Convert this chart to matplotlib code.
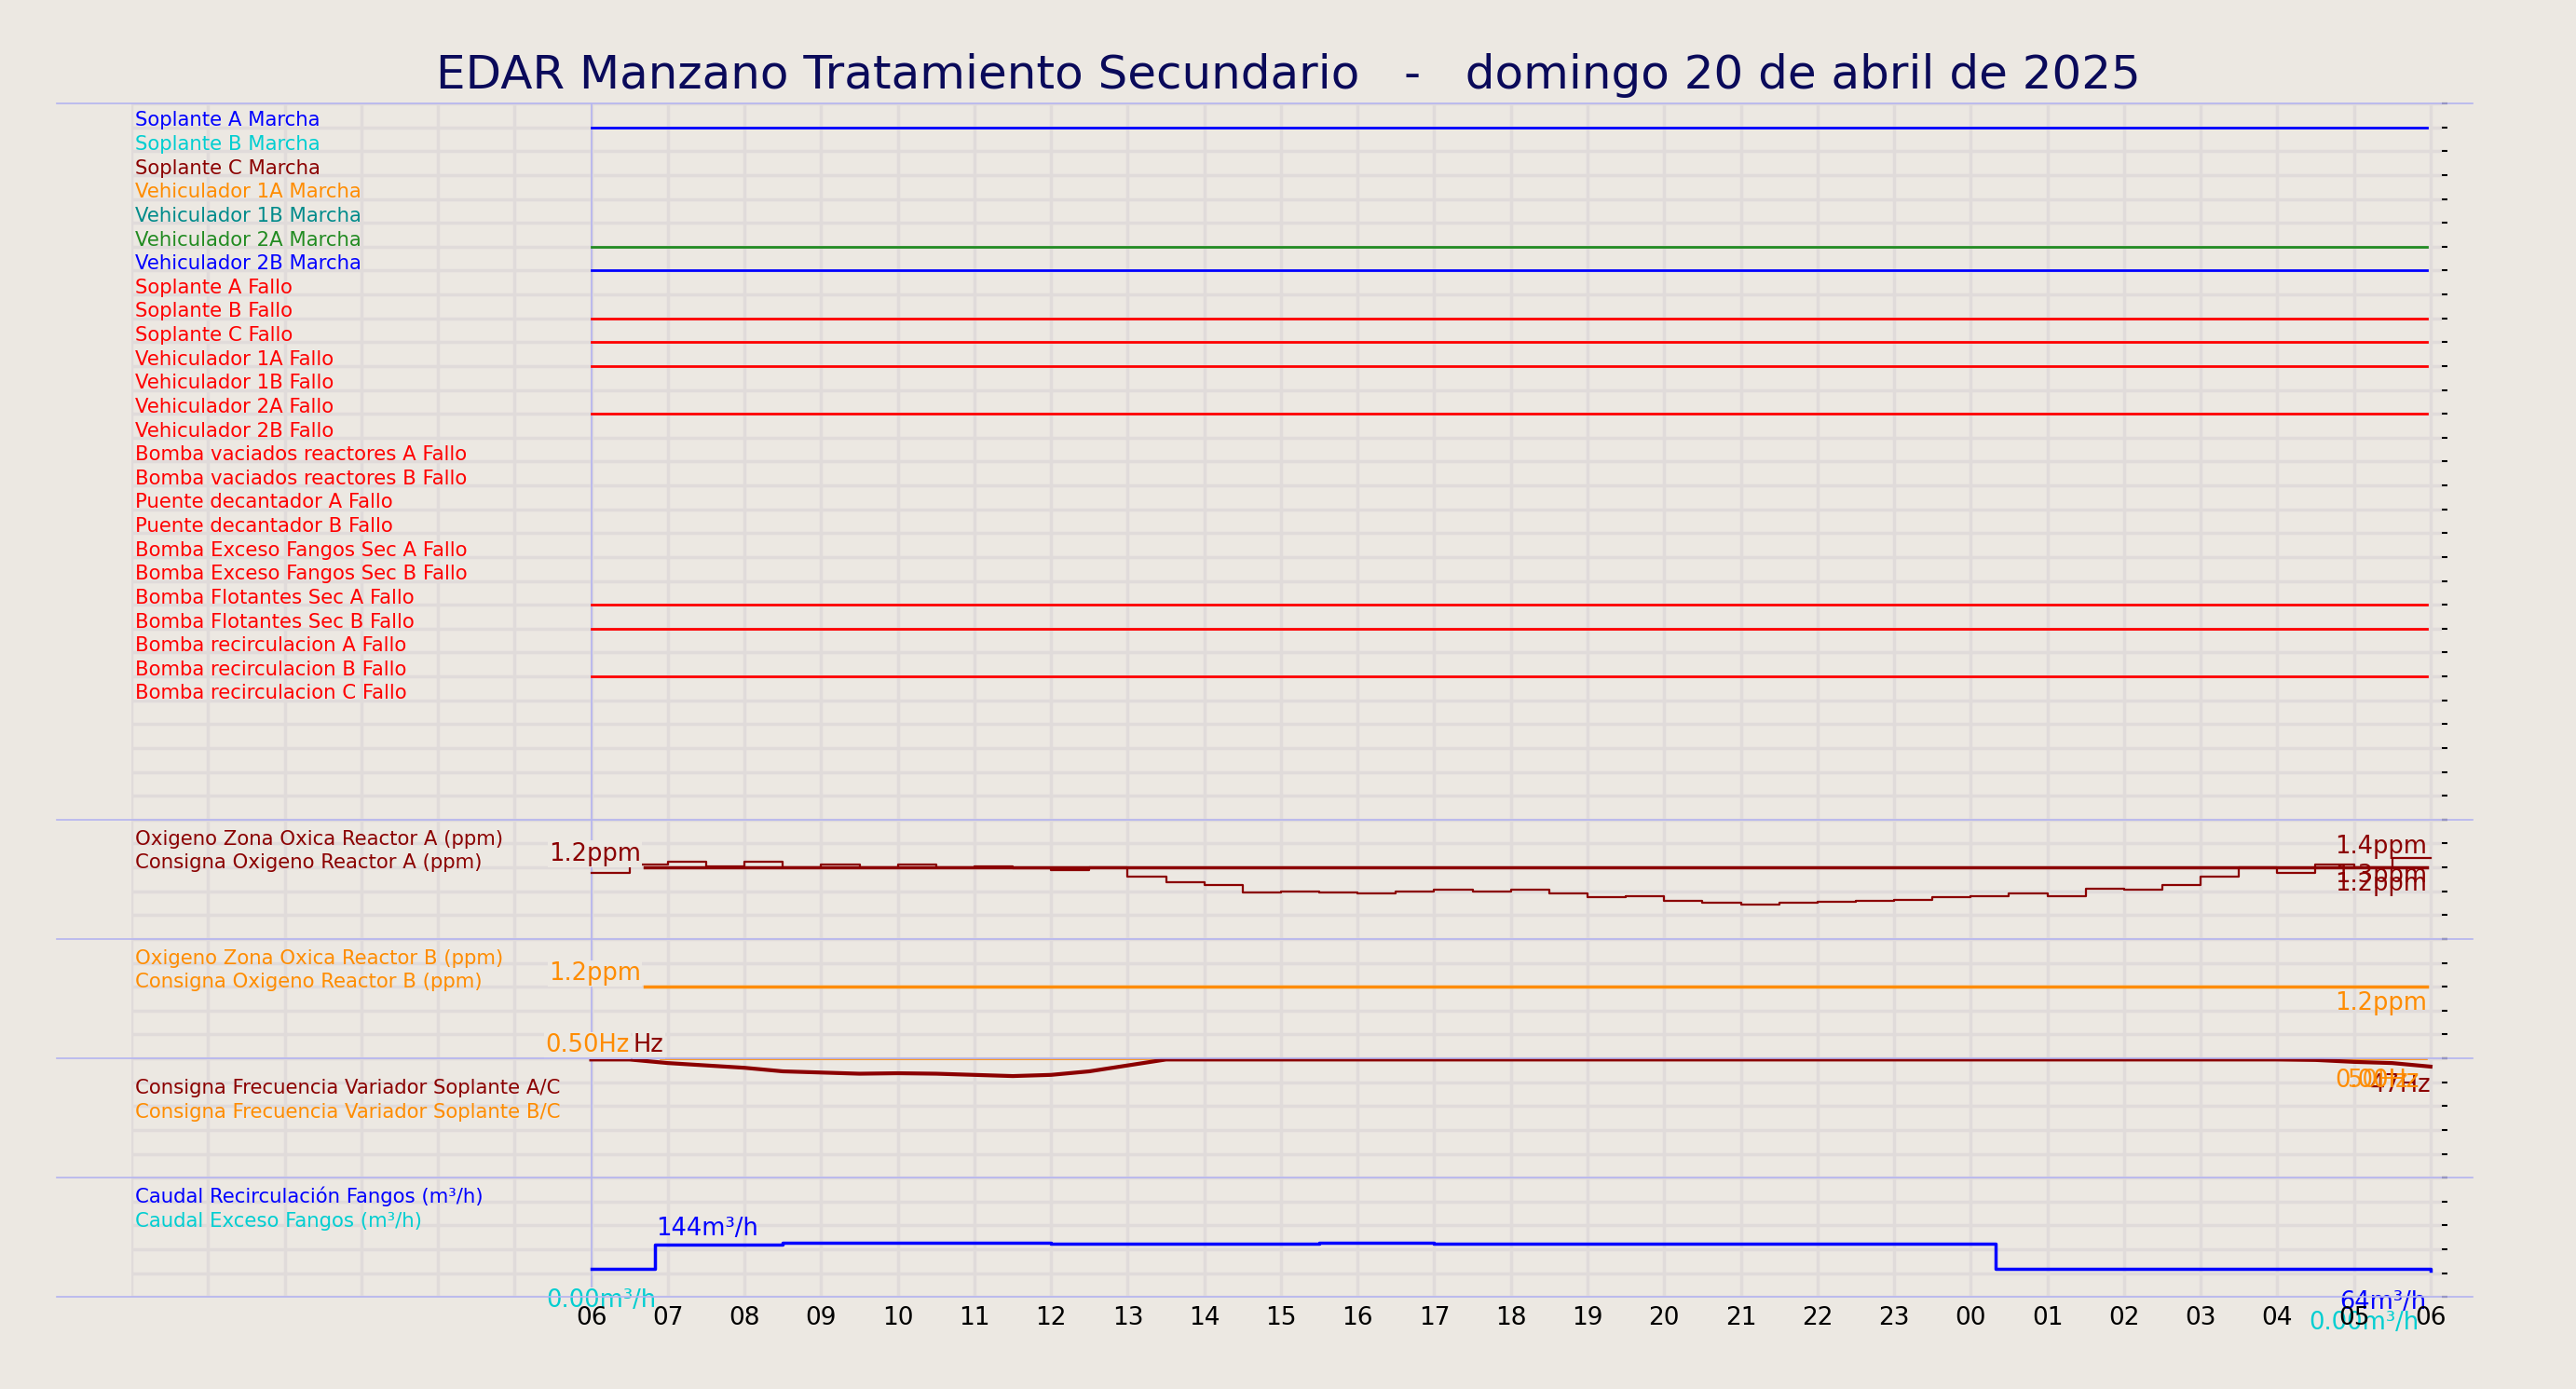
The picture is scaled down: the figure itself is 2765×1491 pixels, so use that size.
import matplotlib
matplotlib.use("Agg")
import matplotlib.pyplot as plt
import numpy as np
from matplotlib.lines import Line2D
from matplotlib.transforms import blended_transform_factory

BG = '#ECE8E2'
GRID = '#E0DBDA'
EDGE = '#B4B4F0'

# ---------------- data ----------------
title = "EDAR Manzano Tratamiento Secundario   -   domingo 20 de abril de 2025"
signal_names = ["Soplante A Marcha", "Soplante B Marcha", "Soplante C Marcha",
                "Vehiculador 1A Marcha", "Vehiculador 1B Marcha", "Vehiculador 2A Marcha",
                "Vehiculador 2B Marcha", "Soplante A Fallo", "Soplante B Fallo",
                "Soplante C Fallo", "Vehiculador 1A Fallo", "Vehiculador 1B Fallo",
                "Vehiculador 2A Fallo", "Vehiculador 2B Fallo",
                "Bomba vaciados reactores A Fallo", "Bomba vaciados reactores B Fallo",
                "Puente decantador A Fallo", "Puente decantador B Fallo",
                "Bomba Exceso Fangos Sec A Fallo", "Bomba Exceso Fangos Sec B Fallo",
                "Bomba Flotantes Sec A Fallo", "Bomba Flotantes Sec B Fallo",
                "Bomba recirculacion A Fallo", "Bomba recirculacion B Fallo",
                "Bomba recirculacion C Fallo"]
signal_colors = ['#0000FF', '#00CED1', '#8B0000', '#FF8C00', '#008B8B', '#228B22', '#0000FF'] + ['#FF0000'] * 18
signal_active = [1, 0, 0, 0, 0, 1, 1, 0, 1, 1, 1, 0, 1, 0, 0, 0, 0, 0, 0, 0, 1, 1, 0, 1, 0]

# hours from 00:00 of day 1 (6 = 06:00, 30 = 06:00 next day)
t_half = np.arange(6, 30.01, 0.5)
o2a = [1.10, 1.25, 1.30, 1.22, 1.30, 1.20, 1.25, 1.20, 1.25, 1.20, 1.22, 1.18, 1.15, 1.20,
       1.05, 0.95, 0.90, 0.78, 0.80, 0.78, 0.76, 0.80, 0.82, 0.80, 0.82, 0.77, 0.70, 0.72,
       0.64, 0.60, 0.58, 0.60, 0.62, 0.64, 0.66, 0.70, 0.72, 0.76, 0.72, 0.84, 0.82, 0.90,
       1.05, 1.20, 1.10, 1.25, 1.20, 1.35, 1.35]
o2a_sp = 1.2
o2b_sp = 1.2
freq_ac = [50, 50, 48.5, 47.5, 46.5, 45, 44.5, 44, 44.2, 44, 43.5, 43, 43.5, 45, 47.5,
           50, 50, 50, 50, 50, 50, 50, 50, 50, 50, 50, 50, 50, 50, 50, 50, 50, 50, 50, 50,
           50, 50, 50, 50, 50, 50, 50, 50, 50, 50, 49.8, 49, 48.5, 47]
freq_bc = 50.0
flow_t = [6, 6.83, 8.5, 12, 15.5, 17, 19, 22, 24.33, 29.9, 30]
flow_recirc = [64, 140, 144, 143, 145, 141, 142, 143, 64, 64, 60]
flow_exceso = 0.0
hour_labels = ["06", "07", "08", "09", "10", "11", "12", "13", "14", "15", "16", "17", "18",
               "19", "20", "21", "22", "23", "00", "01", "02", "03", "04", "05", "06"]

# ---------------- figure ----------------
fig = plt.figure(figsize=(27.65, 14.91), dpi=100, facecolor=BG)
gs = fig.add_gridspec(5, 1, height_ratios=[30, 5, 5, 5, 5], hspace=0,
                      left=0.051, right=0.948, top=0.9255, bottom=0.0662)
axes = [fig.add_subplot(gs[i]) for i in range(5)]
LF = 15.3
VF = 18.5
END = 29.95

for i, ax in enumerate(axes):
    ax.set_facecolor(BG)
    ax.set_xlim(0, 30.15)
    ax.set_xticks(np.arange(0, 31, 1))
    ax.grid(True, color=GRID, lw=2.5)
    ax.set_axisbelow(True)
    for s in ax.spines.values():
        s.set_visible(False)
    ax.yaxis.tick_right()
    ax.tick_params(axis='y', length=4, width=1.5, labelright=False, right=True, left=False)
    ax.tick_params(axis='x', length=0, labelbottom=False)
    ax.axvline(6, color=EDGE, lw=1.2, zorder=1)

def lab(ax, yfrac, s, c):
    tr = blended_transform_factory(ax.transData, ax.transAxes)
    ax.text(0.05, yfrac, s, transform=tr, color=c, fontsize=LF)

# top panel
ax = axes[0]
ax.set_ylim(30, 0)
ax.set_yticks(np.arange(0, 31, 1))
for i, (n, c, a) in enumerate(zip(signal_names, signal_colors, signal_active)):
    ax.text(0.05, i + 0.95, n, color=c, fontsize=LF, va='baseline', ha='left')
    if a:
        ax.plot([6, END], [i + 1, i + 1], color=c, lw=2)

bb = dict(facecolor=BG, edgecolor='none', pad=1)

# O2 A
ax = axes[1]
ax.set_ylim(0, 2.0)
ax.set_yticks(np.linspace(0, 2.0, 6))
lab(ax, 0.79, "Oxigeno Zona Oxica Reactor A (ppm)", '#8B0000')
lab(ax, 0.59, "Consigna Oxigeno Reactor A (ppm)", '#8B0000')
ax.step(t_half, o2a, where='post', color='#8B0000', lw=1.6)
ax.plot([6.7, END], [o2a_sp, o2a_sp], color='#8B0000', lw=2.5)
ax.text(6.65, 1.22, "1.2ppm", color='#8B0000', fontsize=VF, ha='right', va='bottom', bbox=bb)
ax.text(END, 1.34, "1.4ppm", color='#8B0000', fontsize=VF, ha='right', va='bottom')
ax.text(END, 0.85, "1.3ppm", color='#8B0000', fontsize=VF, ha='right', va='bottom')
ax.text(END, 0.72, "1.2ppm", color='#8B0000', fontsize=VF, ha='right', va='bottom')

# O2 B
ax = axes[2]
ax.set_ylim(0, 2.0)
ax.set_yticks(np.linspace(0, 2.0, 6))
lab(ax, 0.79, "Oxigeno Zona Oxica Reactor B (ppm)", '#FF8C00')
lab(ax, 0.59, "Consigna Oxigeno Reactor B (ppm)", '#FF8C00')
ax.plot([6.7, END], [o2b_sp, o2b_sp], color='#FF8C00', lw=2.5)
ax.text(6.65, 1.22, "1.2ppm", color='#FF8C00', fontsize=VF, ha='right', va='bottom', bbox=bb)
ax.text(END, 0.72, "1.2ppm", color='#FF8C00', fontsize=VF, ha='right', va='bottom')

# Frequency
ax = axes[3]
ax.set_ylim(0, 50.5)
ax.set_yticks(np.linspace(0, 50.5, 6))
lab(ax, 0.70, "Consigna Frecuencia Variador Soplante A/C", '#8B0000')
lab(ax, 0.50, "Consigna Frecuencia Variador Soplante B/C", '#FF8C00')
ax.plot([6.9, END], [freq_bc, freq_bc], color='#FF8C00', lw=1.2)
ax.plot(t_half, freq_ac, color='#8B0000', lw=3)
ax.text(6.95, 50.8, "Hz", color='#8B0000', fontsize=VF, ha='right', va='bottom', bbox=bb)
ax.text(6.5, 50.8, "0.50Hz", color='#FF8C00', fontsize=VF, ha='right', va='bottom', bbox=bb)
ax.text(30.0, 34, "47Hz", color='#8B0000', fontsize=VF, ha='right', va='bottom')
ax.text(29.85, 36, "0.00Hz", color='#FF8C00', fontsize=VF, ha='right', va='bottom')
ax.text(29.7, 36, "50Hz", color='#FF8C00', fontsize=VF, ha='right', va='bottom', alpha=0.9)

# Flow
ax = axes[4]
ax.set_ylim(-21, 344)
ax.set_yticks(np.linspace(-21, 344, 6))
lab(ax, 0.79, "Caudal Recirculación Fangos (m³/h)", '#0000FF')
lab(ax, 0.59, "Caudal Exceso Fangos (m³/h)", '#00CED1')
ax.step(flow_t, flow_recirc, where='post', color='#0000FF', lw=2.5)
ax.text(6.85, 150, "144m³/h", color='#0000FF', fontsize=VF, ha='left', va='bottom')
ax.text(6.85, 5, "0.00m³/h", color='#00CED1', fontsize=VF, ha='right', va='top', bbox=bb)
ax.text(29.95, 0, "64m³/h", color='#0000FF', fontsize=VF, ha='right', va='top')
ax.text(29.85, -62, "0.00m³/h", color='#00CED1', fontsize=VF, ha='right', va='top')
for k, lb in enumerate(hour_labels):
    ax.text(6 + k, -48, lb, ha='center', va='top', fontsize=VF + 0.5, color='black')

# boundaries
ybounds = [0.9255]
for ax in axes:
    ybounds.append(ax.get_position().y0)
for y in ybounds:
    fig.add_artist(Line2D([0.022, 0.96], [y, y], color=EDGE, lw=1.2, transform=fig.transFigure))

fig.suptitle(title, fontsize=36, color='#0A0A5A', y=0.962)
fig.savefig("out.png", dpi=100, facecolor=BG)
